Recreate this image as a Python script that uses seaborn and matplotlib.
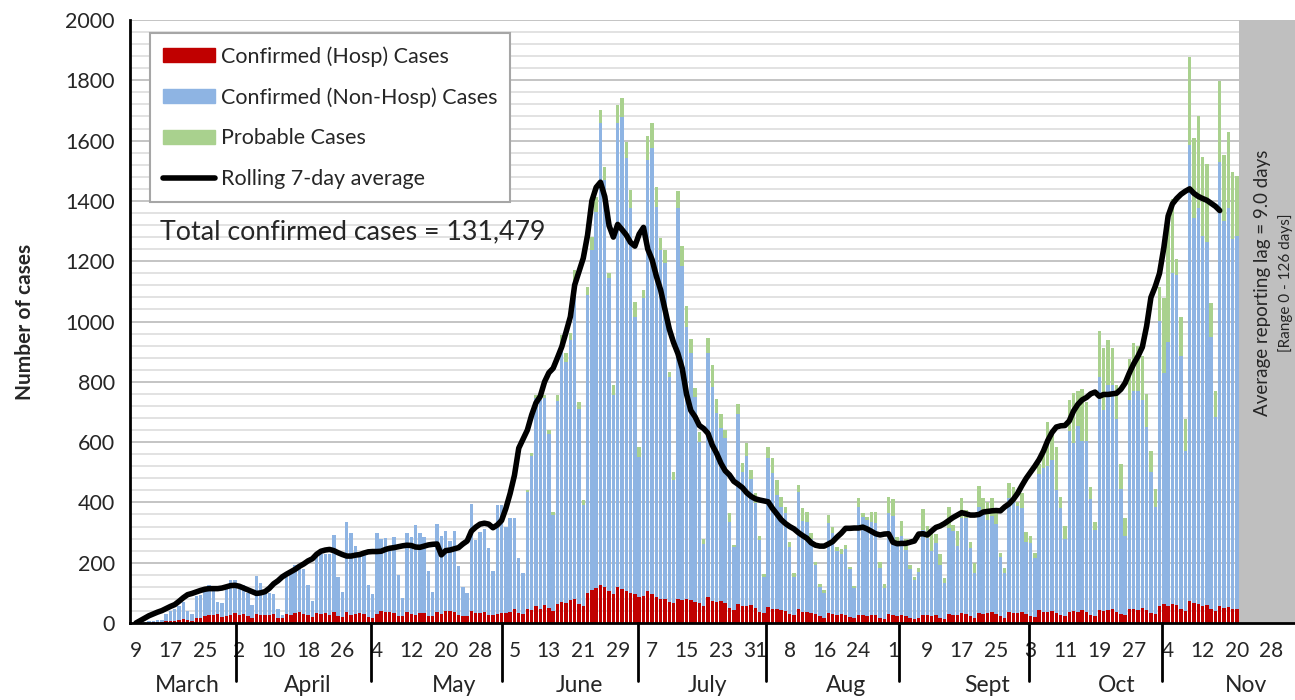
import numpy as np
import pandas as pd
import seaborn as sns
import matplotlib.pyplot as plt
import matplotlib.transforms as mtransforms
from matplotlib.patches import Patch
from matplotlib.lines import Line2D

# daily cases from 9 March, one row per week (Mon..Sun)
hosp = [
    0, 0, 1, 1, 2, 2, 2,
    8, 6, 6, 10, 12, 10, 8,
    15, 18, 22, 26, 28, 30, 20,
    22, 28, 32, 26, 30, 24, 18,
    30, 28, 25, 27, 30, 18, 16,
    30, 28, 32, 35, 30, 25, 20,
    32, 30, 34, 28, 36, 22, 20,
    35, 28, 30, 32, 30, 20, 18,
    30, 40, 35, 36, 32, 24, 22,
    35, 30, 28, 32, 34, 22, 24,
    36, 30, 40, 40, 38, 26, 24,
    22, 40, 32, 34, 36, 26, 28,
    30, 34, 32, 36, 45, 34, 30,
    45, 42, 55, 48, 60, 50, 40,
    62, 70, 65, 75, 80, 62, 55,
    100, 110, 115, 125, 120, 105, 95,
    118, 112, 105, 100, 95, 85, 90,
    105, 95, 85, 80, 78, 70, 65,
    78, 76, 78, 76, 70, 65, 55,
    87, 72, 70, 74, 65, 50, 42,
    62, 58, 56, 60, 50, 38, 34,
    52, 48, 46, 44, 40, 30, 26,
    45, 38, 36, 34, 30, 22, 18,
    34, 30, 28, 30, 26, 20, 16,
    28, 26, 24, 28, 26, 18, 14,
    30, 26, 24, 28, 22, 16, 14,
    15, 28, 26, 24, 28, 18, 14,
    30, 28, 26, 32, 30, 22, 18,
    34, 30, 32, 36, 30, 22, 18,
    36, 34, 32, 38, 30, 24, 20,
    42, 38, 36, 40, 34, 26, 22,
    38, 40, 36, 42, 38, 28, 24,
    44, 40, 42, 46, 38, 30, 26,
    45, 48, 44, 50, 42, 34, 30,
    58, 62, 56, 64, 60, 46, 40,
    72, 65, 62, 58, 60, 48, 40,
    55, 50, 52, 48, 45,
]

nonhosp = [
    2, 3, 3, 4, 6, 8, 8,
    23, 33, 39, 45, 56, 31, 22,
    73, 74, 83, 99, 82, 40, 46,
    103, 115, 111, 99, 95, 76, 41,
    125, 104, 78, 73, 65, 28, 12,
    121, 134, 159, 161, 150, 102, 54,
    205, 200, 196, 202, 256, 132, 84,
    301, 269, 226, 205, 207, 106, 78,
    267, 237, 247, 218, 253, 135, 60,
    262, 256, 298, 268, 250, 150, 78,
    291, 259, 265, 232, 268, 163, 94,
    76, 355, 244, 268, 277, 224, 146,
    361, 357, 288, 311, 302, 180, 135,
    391, 511, 691, 692, 686, 578, 319,
    674, 858, 802, 864, 1036, 647, 338,
    988, 1127, 1249, 1533, 1348, 1040, 661,
    1542, 1565, 1436, 1275, 921, 467, 989,
    1430, 1480, 1296, 1157, 1117, 747, 409,
    1297, 1109, 905, 818, 678, 536, 207,
    810, 712, 625, 572, 550, 286, 209,
    630, 442, 498, 416, 349, 237, 117,
    494, 448, 379, 342, 326, 221, 128,
    388, 300, 300, 243, 162, 98, 82,
    299, 270, 212, 200, 219, 158, 99,
    358, 327, 318, 308, 307, 163, 101,
    336, 329, 246, 261, 220, 162, 129,
    155, 280, 255, 216, 236, 174, 118,
    284, 278, 229, 315, 317, 226, 147,
    352, 345, 310, 319, 300, 198, 149,
    380, 377, 356, 344, 240, 241, 194,
    453, 476, 485, 500, 406, 354, 256,
    598, 558, 619, 562, 566, 384, 286,
    771, 667, 748, 744, 637, 414, 264,
    694, 723, 727, 689, 608, 468, 356,
    943, 766, 875, 1097, 1095, 840, 532,
    1512, 1279, 1313, 1227, 1204, 902, 644,
    1475, 1284, 1323, 1226, 1238,
]

probable = [
    0, 0, 0, 0, 0, 0, 0,
    0, 0, 0, 0, 0, 0, 0,
    0, 0, 0, 0, 0, 0, 0,
    0, 0, 0, 0, 0, 0, 0,
    0, 0, 0, 0, 0, 0, 0,
    0, 0, 0, 0, 0, 0, 0,
    0, 0, 0, 0, 0, 0, 0,
    0, 0, 0, 0, 0, 0, 0,
    0, 0, 0, 0, 0, 0, 0,
    0, 0, 0, 0, 0, 0, 0,
    0, 0, 0, 0, 0, 0, 0,
    0, 0, 0, 0, 0, 0, 0,
    0, 0, 0, 0, 0, 0, 0,
    5, 10, 10, 10, 10, 12, 10,
    20, 27, 27, 22, 55, 25, 15,
    27, 44, 50, 43, 45, 15, 33,
    58, 63, 55, 62, 50, 33, 25,
    80, 82, 66, 39, 42, 17, 28,
    58, 67, 68, 48, 30, 34, 15,
    47, 72, 48, 46, 25, 28, 8,
    36, 30, 44, 31, 33, 15, 12,
    37, 50, 49, 33, 20, 18, 11,
    25, 42, 33, 23, 11, 10, 10,
    25, 17, 13, 14, 14, 9, 9,
    30, 13, 11, 33, 36, 20, 13,
    51, 57, 16, 49, 37, 14, 11,
    11, 69, 41, 60, 30, 37, 16,
    72, 19, 50, 66, 28, 20, 33,
    68, 38, 60, 61, 50, 11, 17,
    50, 41, 12, 50, 31, 25, 19,
    32, 71, 147, 100, 145, 38, 44,
    103, 166, 116, 173, 128, 38, 25,
    154, 205, 147, 122, 115, 83, 58,
    137, 157, 149, 147, 110, 70, 58,
    115, 250, 416, 244, 51, 128, 103,
    292, 265, 307, 260, 260, 113, 87,
    269, 218, 254, 223, 198,
]

rolling_avg = [
    0, 8, 16, 24, 30, 36, 41,
    48, 55, 61, 72, 84, 94, 98,
    103, 108, 112, 114, 114, 114, 116,
    120, 124, 125, 122, 116, 110, 104,
    98, 100, 104, 115, 130, 140, 153,
    162, 170, 178, 188, 196, 206, 213,
    228, 238, 242, 244, 240, 233, 227,
    222, 222, 225, 227, 232, 236, 237,
    237, 238, 244, 248, 250, 253, 256,
    258, 257, 252, 251, 255, 259, 261,
    262, 226, 240, 242, 246, 250, 262,
    272, 305, 318, 328, 331, 328, 316,
    325, 340, 380, 430, 490, 580, 610,
    640, 690, 730, 752, 800, 830, 845,
    880, 916, 965, 1016, 1121, 1165, 1210,
    1287, 1400, 1445, 1462, 1414, 1318, 1280,
    1322, 1305, 1287, 1262, 1250, 1290, 1312,
    1240, 1205, 1150, 1104, 1040, 975, 930,
    894, 845, 760, 705, 684, 655, 645,
    629, 590, 563, 530, 505, 491, 470,
    460, 449, 432, 420, 412, 408, 405,
    402, 380, 362, 343, 330, 320, 312,
    300, 290, 281, 266, 258, 255, 255,
    262, 270, 285, 298, 314, 314, 315,
    315, 318, 312, 304, 296, 292, 295,
    296, 268, 263, 264, 264, 268, 272,
    295, 296, 292, 305, 317, 322, 330,
    340, 350, 358, 366, 362, 358, 358,
    360, 368, 370, 372, 373, 372, 385,
    395, 410, 430, 456, 480, 500, 520,
    542, 570, 605, 632, 650, 654, 655,
    670, 703, 725, 740, 748, 760, 766,
    752, 758, 758, 760, 762, 775, 796,
    830, 860, 885, 915, 985, 1080, 1116,
    1160, 1245, 1350, 1390, 1408, 1422, 1432,
    1440, 1425, 1415, 1408, 1402, 1392, 1382,
    1368,
]

tick_labels = ['9', '17', '25', '2', '10', '18', '26', '4', '12', '20', '28',
               '5', '13', '21', '29', '7', '15', '23', '31', '8', '16', '24',
               '1', '9', '17', '25', '3', '11', '19', '27', '4', '12', '20', '28']
months = ['March', 'April', 'May', 'June', 'July', 'Aug', 'Sept', 'Oct', 'Nov']
month_label_pos = [12, 40, 74, 103, 133, 165, 198, 228, 258]
month_breaks = [23.3, 54.7, 85.1, 116.7, 146.5, 177.4, 207.7, 238.6]
lag_start = 256.5
x_end = 269.5

RED = '#c00000'
BLUE = '#8eb4e3'
GREEN = '#a9d18e'

sns.set_style('white')
plt.rcParams['font.family'] = ['Lato', 'DejaVu Sans']

days = np.arange(len(hosp))
df = pd.DataFrame({'day': days, 'hosp': hosp, 'nonhosp': nonhosp, 'probable': probable})
# stacked heights
df['confirmed'] = df['hosp'] + df['nonhosp']
df['total'] = df['confirmed'] + df['probable']

fig = plt.figure(figsize=(12.95, 7), dpi=100)
ax = fig.add_axes([130 / 1295, 77 / 700, 1165 / 1295, 603 / 700])

# gridlines every 40
for v in range(40, 2001, 40):
    major = v % 200 == 0
    ax.axhline(v, color='#c4c4c4' if major else '#dadada', lw=1.4 if major else 1.1, zorder=0)

# reporting lag region
ax.axvspan(lag_start, x_end, color='#bfbfbf', lw=0, zorder=1)

for col, c in [('total', GREEN), ('confirmed', BLUE), ('hosp', RED)]:
    sns.barplot(data=df, x='day', y=col, native_scale=True, orient='x', color=c,
                saturation=1, width=0.8, linewidth=0, errorbar=None, ax=ax, zorder=2)

avg_df = pd.DataFrame({'day': np.arange(len(rolling_avg)), 'avg': rolling_avg})
sns.lineplot(data=avg_df, x='day', y='avg', color='black', lw=4, ax=ax, zorder=3,
             solid_capstyle='round', solid_joinstyle='round')

ax.set_xlim(-1.4, x_end)
ax.set_ylim(0, 2000)
ax.set_yticks(range(0, 2001, 200))
ax.set_xticks(np.arange(0, 8 * len(tick_labels), 8))
ax.set_xticklabels(tick_labels)
ax.set_xticks(days.tolist() + list(range(len(days), int(x_end) + 1)), minor=True)
ax.tick_params(axis='x', which='major', length=0, pad=13, labelsize=15)
ax.tick_params(axis='x', which='minor', length=5, width=1.2, direction='out', color='black')
ax.tick_params(axis='y', which='major', length=7, width=1.5, direction='out', labelsize=15.5, pad=4)
ax.set_xlabel('')
ax.set_ylabel('Number of cases', fontsize=15, fontweight='bold', labelpad=22)

for s in ['top', 'right']:
    ax.spines[s].set_visible(False)
for s in ['left', 'bottom']:
    ax.spines[s].set_linewidth(2)
    ax.spines[s].set_color('black')

trans = mtransforms.blended_transform_factory(ax.transData, ax.transAxes)
for b in month_breaks:
    ax.plot([b, b], [0, -0.097], transform=trans, color='black', lw=2, clip_on=False)
for m, p in zip(months, month_label_pos):
    ax.text(p, -0.103, m, transform=trans, ha='center', va='center', fontsize=16.5)

ax.text(262, 1128, 'Average reporting lag = 9.0 days', rotation=90, ha='center', va='center',
        fontsize=13.5, zorder=4)
ax.text(267.2, 1128, '[Range 0 - 126 days]', rotation=90, ha='center', va='center',
        fontsize=11, zorder=4)

ax.text(0.0258, 0.648, 'Total confirmed cases = 131,479', transform=ax.transAxes,
        ha='left', va='center', fontsize=19.3, zorder=4)

handles = [Patch(color=RED), Patch(color=BLUE), Patch(color=GREEN),
           Line2D([], [], color='black', lw=4, solid_capstyle='round')]
labels = ['Confirmed (Hosp) Cases', 'Confirmed (Non-Hosp) Cases', 'Probable Cases',
          'Rolling 7-day average']
leg = ax.legend(handles, labels, loc='upper left', bbox_to_anchor=(20 / 1165, 1 - 13 / 603),
                fontsize=15.5, frameon=True, fancybox=False, edgecolor='#a6a6a6', framealpha=1,
                handlelength=2.4, handleheight=0.65, labelspacing=0.96, borderpad=0.6,
                handletextpad=0.3, borderaxespad=0)
leg.get_frame().set_linewidth(1.5)
leg.set_zorder(5)

fig.savefig('out.png', dpi=100, facecolor='white')
